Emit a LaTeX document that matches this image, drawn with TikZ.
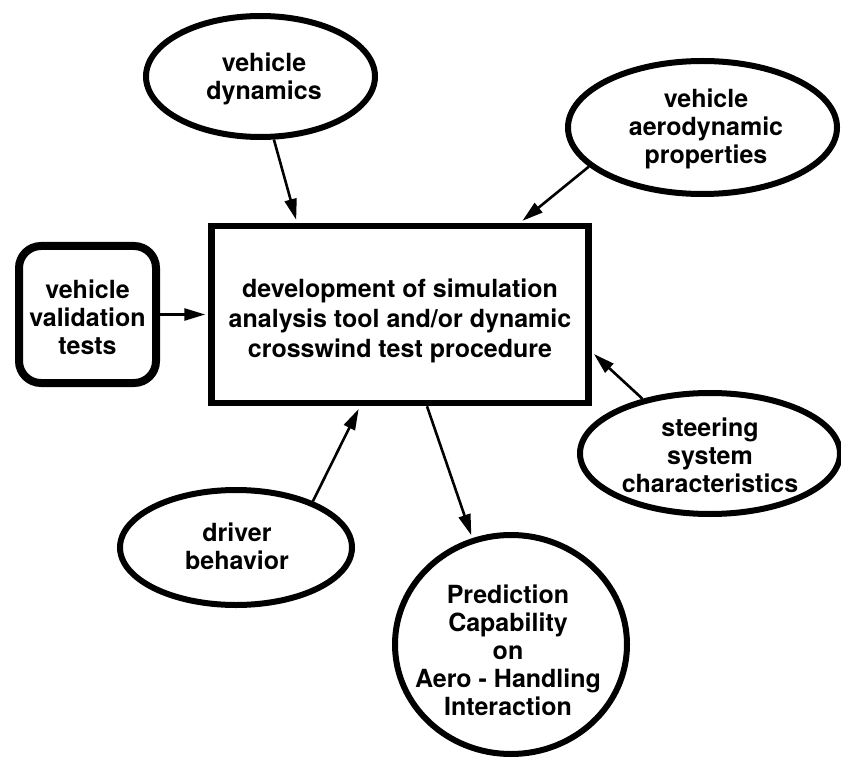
\documentclass[tikz,border=0pt]{standalone}
\usepackage{fontspec}
\setmainfont{TeX Gyre Heros}
\usetikzlibrary{shapes.geometric,arrows.meta,calc}
\tikzset{
  ell/.style={ellipse, draw=black, line width=6pt, inner sep=0pt},
  mainbox/.style={rectangle, draw=black, line width=6.5pt, inner sep=0pt},
  valbox/.style={rectangle, draw=black, line width=8pt, rounded corners=22pt, inner sep=0pt},
  txt/.style={align=center, inner sep=0pt, font=\fontsize{25}{28}\selectfont\bfseries},
  maintxt/.style={align=center, inner sep=0pt, font=\fontsize{25}{30}\selectfont\bfseries},
  arr/.style={line width=2.6pt, -{Triangle[length=21pt,width=12pt]}, shorten >=3pt}
}
\begin{document}
\begin{tikzpicture}[x=1pt,y=-1pt]
\useasboundingbox (0,0) rectangle (841,762);
% shapes
\node[mainbox, minimum width=377pt, minimum height=177pt] (main) at (400,314.5) {};
\node[valbox, minimum width=137pt, minimum height=137pt] (val) at (87.5,314.5) {};
\node[ell, minimum width=229pt, minimum height=121pt] (dyn) at (260.5,76.5) {};
\node[ell, minimum width=269pt, minimum height=133pt] (aero) at (702.5,127.5) {};
\node[ell, minimum width=260pt, minimum height=121pt] (steer) at (710,453.5) {};
\node[ell, minimum width=232pt, minimum height=115pt] (driver) at (236,547.5) {};
\node[ell, minimum width=232pt, minimum height=219pt] (pred) at (511,644.5) {};
% texts
\node[maintxt] (maintext) at (400,321) {development of simulation\\analysis tool and/or dynamic\\crosswind test procedure};
\node[txt] (valtext) at (87.5,317) {vehicle\\validation\\tests};
\node[txt] (dyntext) at (264,79) {vehicle\\dynamics};
\node[txt] (aerotext) at (706,129) {vehicle\\aerodynamic\\properties};
\node[txt] (steertext) at (710,455) {steering\\system\\characteristics};
\node[txt] (drivertext) at (237,546) {driver\\behavior};
\node[txt] (predtext) at (508,650) {Prediction\\Capability\\on\\Aero - Handling\\Interaction};
% connectors
\draw[arr] (dyn.-78) -- ([xshift=-103pt]main.north);
\draw[arr] (aero.199.5) -- ([xshift=120pt]main.north);
\draw[arr] (val.east) -- (val.east -| main.west);
\draw[arr] (steer.141.4) -- ([yshift=-37.5pt]main.east);
\draw[arr] (driver.31.7) -- ([xshift=-40pt]main.south);
\draw[arr] ([xshift=27pt]main.south) -- (pred.110.2);
\end{tikzpicture}
\end{document}
